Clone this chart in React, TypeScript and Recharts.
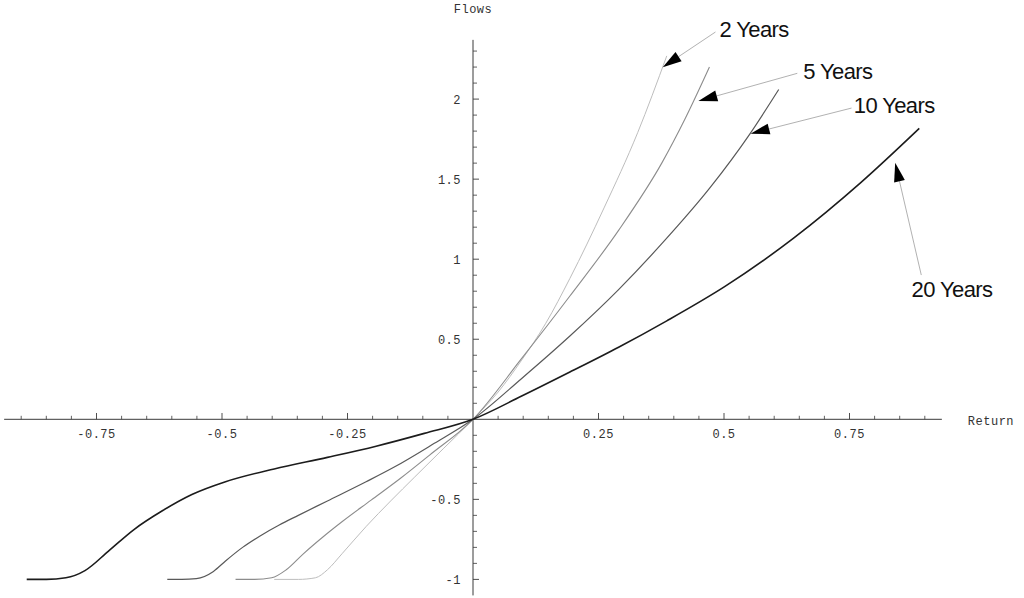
import React from 'react';
import { LineChart, Line, XAxis, YAxis, ReferenceLine, ReferenceDot } from 'recharts';

// ---- data (Return -> Flows) ----
const returns2 = [-0.396, -0.348, -0.314, -0.29, -0.261, -0.213, -0.164, -0.116, -0.058, 0, 0.05, 0.097, 0.145, 0.193, 0.261, 0.328, 0.386];
const flows2 = [-1, -1, -0.99, -0.94, -0.84, -0.67, -0.51, -0.36, -0.18, 0, 0.17, 0.37, 0.6, 0.88, 1.32, 1.79, 2.27];

const returns5 = [-0.473, -0.435, -0.401, -0.372, -0.338, -0.299, -0.261, -0.203, -0.145, -0.087, 0, 0.097, 0.193, 0.29, 0.376, 0.423, 0.471];
const flows5 = [-1, -1, -0.99, -0.94, -0.84, -0.735, -0.64, -0.505, -0.37, -0.225, 0, 0.38, 0.77, 1.18, 1.6, 1.88, 2.2];

const returns10 = [-0.609, -0.58, -0.551, -0.517, -0.493, -0.459, -0.425, -0.386, -0.348, -0.29, -0.213, -0.155, -0.077, 0, 0.097, 0.193, 0.29, 0.377, 0.473, 0.551, 0.609];
const flows10 = [-1, -1, -0.995, -0.95, -0.885, -0.8, -0.73, -0.66, -0.6, -0.51, -0.39, -0.295, -0.15, 0, 0.255, 0.52, 0.81, 1.1, 1.45, 1.78, 2.06];

const returns20 = [-0.889, -0.85, -0.811, -0.773, -0.725, -0.676, -0.618, -0.56, -0.493, -0.396, -0.29, -0.193, -0.097, 0, 0.097, 0.193, 0.29, 0.386, 0.502, 0.638, 0.773, 0.889];
const flows20 = [-1, -1, -0.99, -0.945, -0.82, -0.69, -0.57, -0.47, -0.39, -0.31, -0.238, -0.168, -0.088, 0, 0.145, 0.295, 0.45, 0.615, 0.83, 1.13, 1.48, 1.817];

const seriesNames = ['2 Years', '5 Years', '10 Years', '20 Years'];

// ---- axis ticks ----
const xMajorTicks = [-0.75, -0.5, -0.25, 0.25, 0.5, 0.75];
const xMajorLabels = ['-0.75', '-0.5', '-0.25', '0.25', '0.5', '0.75'];
const xMinorTicks = [-0.9, -0.85, -0.8, -0.7, -0.65, -0.6, -0.55, -0.45, -0.4, -0.35, -0.3, -0.2, -0.15, -0.1, -0.05, 0.05, 0.1, 0.15, 0.2, 0.3, 0.35, 0.4, 0.45, 0.55, 0.6, 0.65, 0.7, 0.8, 0.85, 0.9];
const yMajorTicks = [-1, -0.5, 0.5, 1, 1.5, 2];
const yMajorLabels = ['-1', '-0.5', '0.5', '1', '1.5', '2'];
const yMinorTicks = [-0.9, -0.8, -0.7, -0.6, -0.4, -0.3, -0.2, -0.1, 0.1, 0.2, 0.3, 0.4, 0.6, 0.7, 0.8, 0.9, 1.1, 1.2, 1.3, 1.4, 1.6, 1.7, 1.8, 1.9, 2.1, 2.2, 2.3];

const xDomain = [-0.94, 0.94];
const yDomain = [-1.1, 2.37];
const xAxisExtent = [-0.934, 0.934];

// ---- annotations: label, arrow start (at label), arrow tip (at curve) ----
const annLabels = ['2 Years', '5 Years', '10 Years', '20 Years'];
const annFrom = [[0.483, 2.419], [0.646, 2.161], [0.754, 1.944], [0.893, 0.901]];
const annTo = [[0.378, 2.199], [0.449, 1.988], [0.553, 1.784], [0.841, 1.603]];
const annTextOffset = [[4, 5.3], [6, 5.4], [2.3, 4.7], [-9.7, 21.7]];

const colors = ['#bdbdbd', '#8c8c8c', '#595959', '#1c1c1c'];
const widths = [1.0, 1.1, 1.2, 1.6];

const toPoints = (xs: number[], ys: number[]) => xs.map((x, i) => ({ x, y: ys[i] }));
const seriesData = [
  toPoints(returns2, flows2),
  toPoints(returns5, flows5),
  toPoints(returns10, flows10),
  toPoints(returns20, flows20),
];

const AXIS = '#3a3a3a';
const MONO = '"Liberation Mono", "DejaVu Sans Mono", monospace';
const SANS = '"Liberation Sans", Arial, Helvetica, sans-serif';

const ArrowShape = (props: any) => {
  const { x1, y1, x2, y2, idx } = props;
  const dx = x2 - x1;
  const dy = y2 - y1;
  const len = Math.sqrt(dx * dx + dy * dy) || 1;
  const ux = dx / len;
  const uy = dy / len;
  const headLen = 19;
  const headHalf = 5.5;
  const bx = x2 - ux * headLen;
  const by = y2 - uy * headLen;
  const px = -uy;
  const py = ux;
  const [tx, ty] = annTextOffset[idx];
  return (
    <g>
      <line x1={x1} y1={y1} x2={bx} y2={by} stroke="#a8a8a8" strokeWidth={0.9} />
      <polygon
        points={`${x2},${y2} ${bx + px * headHalf},${by + py * headHalf} ${bx - px * headHalf},${by - py * headHalf}`}
        fill="#000"
      />
      <text x={x1 + tx} y={y1 + ty} fontFamily={SANS} fontSize={22} letterSpacing={-0.6} fill="#111">
        {annLabels[idx]}
      </text>
    </g>
  );
};

export default function App() {
  return (
    <div style={{ position: 'absolute', left: 0, top: 0, background: '#fff' }}>
      <LineChart
        width={1024}
        height={598}
        margin={{ top: 39.86, right: 79.12, bottom: 2.59, left: 1.12 }}
      >
        <XAxis type="number" dataKey="x" domain={xDomain} hide allowDataOverflow />
        <YAxis type="number" dataKey="y" domain={yDomain} hide allowDataOverflow />

        {/* axes through the origin */}
        <ReferenceLine
          segment={[{ x: xAxisExtent[0], y: 0 }, { x: xAxisExtent[1], y: 0 }]}
          stroke={AXIS}
          strokeWidth={1}
          ifOverflow="visible"
        />
        <ReferenceLine
          segment={[{ x: 0, y: yDomain[0] }, { x: 0, y: yDomain[1] }]}
          stroke={AXIS}
          strokeWidth={1}
          ifOverflow="visible"
        />

        {xMinorTicks.map((t) => (
          <ReferenceDot
            key={`xm${t}`}
            x={t}
            y={0}
            r={0}
            ifOverflow="visible"
            shape={(p: any) => <line x1={p.cx} y1={p.cy} x2={p.cx} y2={p.cy - 3.5} stroke={AXIS} strokeWidth={0.8} />}
          />
        ))}
        {xMajorTicks.map((t, i) => (
          <ReferenceDot
            key={`xM${t}`}
            x={t}
            y={0}
            r={0}
            ifOverflow="visible"
            shape={(p: any) => (
              <g>
                <line x1={p.cx} y1={p.cy} x2={p.cx} y2={p.cy - 6.3} stroke={AXIS} strokeWidth={0.9} />
                <text x={p.cx} y={p.cy + 19} textAnchor="middle" fontFamily={MONO} fontSize={12} letterSpacing={0.5} fill="#333">
                  {xMajorLabels[i]}
                </text>
              </g>
            )}
          />
        ))}
        {yMinorTicks.map((t) => (
          <ReferenceDot
            key={`ym${t}`}
            x={0}
            y={t}
            r={0}
            ifOverflow="visible"
            shape={(p: any) => <line x1={p.cx} y1={p.cy} x2={p.cx + 4} y2={p.cy} stroke={AXIS} strokeWidth={0.8} />}
          />
        ))}
        {yMajorTicks.map((t, i) => (
          <ReferenceDot
            key={`yM${t}`}
            x={0}
            y={t}
            r={0}
            ifOverflow="visible"
            shape={(p: any) => (
              <g>
                <line x1={p.cx} y1={p.cy} x2={p.cx + 6} y2={p.cy} stroke={AXIS} strokeWidth={0.9} />
                <text x={p.cx - 12} y={p.cy + 4.5} textAnchor="end" fontFamily={MONO} fontSize={12} letterSpacing={0.5} fill="#333">
                  {yMajorLabels[i]}
                </text>
              </g>
            )}
          />
        ))}

        {/* axis titles */}
        <ReferenceDot
          x={0}
          y={yDomain[1]}
          r={0}
          ifOverflow="visible"
          shape={(p: any) => (
            <text x={p.cx} y={p.cy - 26.5} textAnchor="middle" fontFamily={MONO} fontSize={12} letterSpacing={0.5} fill="#333">
              Flows
            </text>
          )}
        />
        <ReferenceDot
          x={xAxisExtent[1]}
          y={0}
          r={0}
          ifOverflow="visible"
          shape={(p: any) => (
            <text x={p.cx + 26} y={p.cy + 5.7} textAnchor="start" fontFamily={MONO} fontSize={12} letterSpacing={0.5} fill="#333">
              Return
            </text>
          )}
        />

        {seriesData.map((d, i) => (
          <Line
            key={seriesNames[i]}
            name={seriesNames[i]}
            data={d}
            dataKey="y"
            type="monotone"
            stroke={colors[i]}
            strokeWidth={widths[i]}
            dot={false}
            activeDot={false}
            isAnimationActive={false}
          />
        ))}

        {annLabels.map((l, i) => (
          <ReferenceLine
            key={`ann${l}`}
            segment={[{ x: annFrom[i][0], y: annFrom[i][1] }, { x: annTo[i][0], y: annTo[i][1] }]}
            ifOverflow="visible"
            shape={(p: any) => <ArrowShape {...p} idx={i} />}
          />
        ))}
      </LineChart>
    </div>
  );
}
